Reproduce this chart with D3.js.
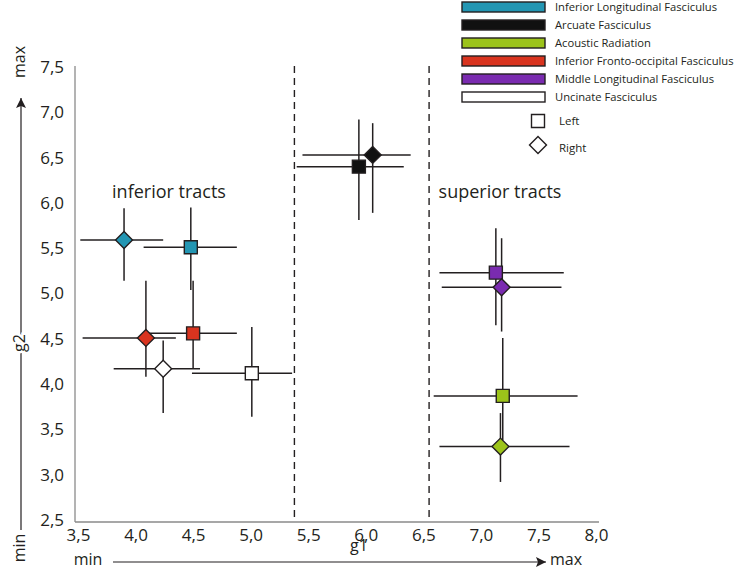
<!DOCTYPE html>
<html>
<head>
<meta charset="utf-8">
<script src="https://cdn.jsdelivr.net/npm/d3@7"></script>
<style>
  body { margin: 0; background: #fff; }
  text { font-family: "Open Sans", sans-serif; fill: #231f20; }
</style>
</head>
<body>
<div id="wrapper"></div>
<script>
// legend categories
const tracts = [
  "Inferior Longitudinal Fasciculus",
  "Arcuate Fasciculus",
  "Acoustic Radiation",
  "Inferior Fronto-occipital Fasciculus",
  "Middle Longitudinal Fasciculus",
  "Uncinate Fasciculus"
]
const sides = ["Left", "Right"]

// one entry per point
const pt_tract = ["Inferior Longitudinal Fasciculus", "Inferior Longitudinal Fasciculus",
  "Arcuate Fasciculus", "Arcuate Fasciculus",
  "Acoustic Radiation", "Acoustic Radiation",
  "Inferior Fronto-occipital Fasciculus", "Inferior Fronto-occipital Fasciculus",
  "Middle Longitudinal Fasciculus", "Middle Longitudinal Fasciculus",
  "Uncinate Fasciculus", "Uncinate Fasciculus"]
const pt_side = ["Left", "Right", "Left", "Right", "Left", "Right",
  "Left", "Right", "Left", "Right", "Left", "Right"]
const g1_mid  = [4.48, 3.90, 5.94, 6.06, 7.19, 7.17, 4.50, 4.09, 7.13, 7.18, 5.01, 4.24]
const g1_low  = [4.07, 3.52, 5.40, 5.45, 6.59, 6.64, 4.10, 3.54, 6.64, 6.66, 4.49, 3.81]
const g1_high = [4.88, 4.24, 6.33, 6.39, 7.84, 7.77, 4.88, 4.35, 7.72, 7.70, 5.36, 4.56]
const g2_mid  = [5.51, 5.59, 6.40, 6.53, 3.87, 3.31, 4.56, 4.51, 5.23, 5.07, 4.12, 4.17]
const g2_low  = [5.04, 5.14, 5.81, 5.89, 3.38, 2.92, 4.17, 4.08, 4.65, 4.58, 3.64, 3.68]
const g2_high = [5.95, 5.94, 6.92, 6.88, 4.51, 3.68, 5.14, 5.14, 5.72, 5.61, 4.63, 4.48]

// region boundaries (g1)
const bounds = [5.38, 6.55]
const x_ticks = [3.5, 4.0, 4.5, 5.0, 5.5, 6.0, 6.5, 7.0, 7.5, 8.0]
const y_ticks = [2.5, 3.0, 3.5, 4.0, 4.5, 5.0, 5.5, 6.0, 6.5, 7.0, 7.5]

const dat = pt_tract.map((t, i) => ({
  tract: t, side: pt_side[i],
  x: g1_mid[i], x0: g1_low[i], x1: g1_high[i],
  y: g2_mid[i], y0: g2_low[i], y1: g2_high[i]
}))

const width = 744, height = 570
const svg = d3.select("#wrapper").append("svg")
  .attr("width", width).attr("height", height)

const x_scale = d3.scaleLinear().domain([3.5, 8.0]).range([78, 596])
const y_scale = d3.scaleLinear().domain([2.5, 7.5]).range([520, 67])
const color = d3.scaleOrdinal()
  .domain(tracts)
  .range(["#2396b3", "#111111", "#9cc31a", "#d9341f", "#7a2bb0", "#ffffff"])

const fmt = d => d3.format(".1f")(d).replace(".", ",")

// axes
const x_axis = svg.append("g")
  .attr("transform", "translate(0,522)")
  .call(d3.axisBottom(x_scale).tickValues(x_ticks).tickFormat(fmt).tickSize(0).tickPadding(7))
const y_axis = svg.append("g")
  .attr("transform", "translate(75,0)")
  .call(d3.axisLeft(y_scale).tickValues(y_ticks).tickFormat(fmt).tickSize(0).tickPadding(11))
svg.selectAll(".domain").remove()
svg.selectAll(".tick text").style("font-size", "17px").attr("fill", "#231f20")

svg.append("line")
  .attr("x1", 75).attr("x2", 599).attr("y1", 522).attr("y2", 522)
  .attr("stroke", "#8a8a8a").attr("stroke-width", 1.3)
svg.append("line")
  .attr("x1", 75).attr("x2", 75).attr("y1", 66).attr("y2", 522)
  .attr("stroke", "#8a8a8a").attr("stroke-width", 1.3)

// dashed boundaries
svg.selectAll(".bound").data(bounds).join("line")
  .attr("x1", d => x_scale(d)).attr("x2", d => x_scale(d))
  .attr("y1", 66).attr("y2", 521)
  .attr("stroke", "#231f20").attr("stroke-width", 1.4)
  .attr("stroke-dasharray", "7,5")

// region labels
svg.append("text").attr("x", 169).attr("y", 198).attr("text-anchor", "middle")
  .style("font-size", "18px").text("inferior tracts")
svg.append("text").attr("x", 500).attr("y", 198).attr("text-anchor", "middle")
  .style("font-size", "18px").text("superior tracts")

// error bars
const bars = svg.append("g").attr("stroke", "#231f20").attr("stroke-width", 1.5)
dat.forEach(d => {
  bars.append("line")
    .attr("x1", x_scale(d.x0)).attr("x2", x_scale(d.x1))
    .attr("y1", y_scale(d.y)).attr("y2", y_scale(d.y))
  bars.append("line")
    .attr("x1", x_scale(d.x)).attr("x2", x_scale(d.x))
    .attr("y1", y_scale(d.y0)).attr("y2", y_scale(d.y1))
})

// markers: squares then diamonds
const square = d3.symbol().type(d3.symbolSquare).size(169)
const diamond = d3.symbol().type(d3.symbolSquare).size(144)
const marks = svg.append("g")
dat.filter(d => d.side == "Left").forEach(d => {
  marks.append("path").attr("d", square())
    .attr("transform", `translate(${x_scale(d.x)},${y_scale(d.y)})`)
    .attr("fill", color(d.tract)).attr("stroke", "#231f20").attr("stroke-width", 1.4)
})
dat.filter(d => d.side == "Right").forEach(d => {
  marks.append("path").attr("d", diamond())
    .attr("transform", `translate(${x_scale(d.x)},${y_scale(d.y)}) rotate(45)`)
    .attr("fill", color(d.tract)).attr("stroke", "#231f20").attr("stroke-width", 1.4)
})

// legend
const legend = svg.append("g")
tracts.forEach((t, i) => {
  const cy = 7 + i * 18
  legend.append("rect")
    .attr("x", 462).attr("y", cy - 5).attr("width", 83).attr("height", 10)
    .attr("fill", color(t)).attr("stroke", "#231f20").attr("stroke-width", 1.4)
  legend.append("text")
    .attr("x", 555).attr("y", cy).attr("dy", "0.35em")
    .style("font-size", "11.2px").text(t)
})
sides.forEach((s, i) => {
  const cy = 121 + i * 25
  legend.append("path")
    .attr("d", i == 0 ? square() : diamond())
    .attr("transform", i == 0 ? `translate(538,${cy})` : `translate(538,${cy - 1}) rotate(45)`)
    .attr("fill", "#fff").attr("stroke", "#231f20").attr("stroke-width", 1.4)
  legend.append("text")
    .attr("x", 559).attr("y", cy + i * 2).attr("dy", "0.35em")
    .style("font-size", "11.5px").text(s)
})

// axis direction arrows
svg.append("defs").append("marker")
  .attr("id", "arrow").attr("viewBox", "0 0 10 10")
  .attr("refX", 10).attr("refY", 5)
  .attr("markerWidth", 10).attr("markerHeight", 10)
  .attr("markerUnits", "userSpaceOnUse")
  .attr("orient", "auto")
  .append("path").attr("d", "M0,0 L10,5 L0,10 L2,5 Z").attr("fill", "#231f20")

svg.append("line")
  .attr("x1", 113).attr("x2", 546).attr("y1", 562).attr("y2", 562)
  .attr("stroke", "#231f20").attr("stroke-width", 1.2)
  .attr("marker-end", "url(#arrow)")
svg.append("text").attr("x", 88).attr("y", 565).attr("text-anchor", "middle")
  .style("font-size", "16px").text("min")
svg.append("text").attr("x", 566).attr("y", 565).attr("text-anchor", "middle")
  .style("font-size", "16px").text("max")
svg.append("text").attr("x", 359).attr("y", 551).attr("text-anchor", "middle")
  .style("font-size", "16px").text("g1")

svg.append("line")
  .attr("x1", 21).attr("x2", 21).attr("y1", 530).attr("y2", 98)
  .attr("stroke", "#231f20").attr("stroke-width", 1.2)
  .attr("marker-end", "url(#arrow)")
const vlab = [["max", 62], ["g2", 343], ["min", 548]]
vlab.forEach(([t, cy]) => {
  svg.append("text")
    .attr("transform", `translate(25,${cy}) rotate(-90)`)
    .attr("text-anchor", "middle")
    .style("font-size", "16px")
    .attr("stroke", "#fff").attr("stroke-width", 5).attr("paint-order", "stroke")
    .text(t)
})
</script>
</body>
</html>
